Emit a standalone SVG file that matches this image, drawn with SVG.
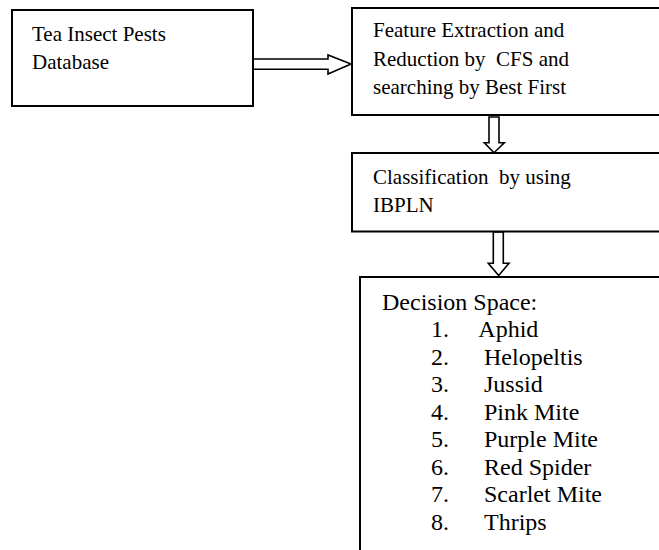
<svg xmlns="http://www.w3.org/2000/svg" width="659" height="550" viewBox="0 0 659 550">
  <style>
    .box { fill: #ffffff; stroke: #000000; stroke-width: 2; }
    .arrow { fill: #ffffff; stroke: #000000; stroke-width: 1.6; stroke-linejoin: miter; }
    .t { font-family: "Liberation Serif", "Times New Roman", serif; font-size: 21px; fill: #000000; }
    .d { font-family: "Liberation Serif", "Times New Roman", serif; font-size: 24px; fill: #000000; }
  </style>
  <rect x="0" y="0" width="659" height="550" fill="#ffffff"/>
  <g id="connectors">
    <polygon class="arrow" points="253,59 328,59 328,55 351,64 328,74 328,69.3 253,69.3"/>
    <polygon class="arrow" points="489,117 499,117 499,142.7 504.3,142.7 494,152.7 484.3,142.7 489,142.7"/>
    <polygon class="arrow" points="493.3,232 503.3,232 503.3,263.3 509,263.3 498.7,275.5 488.3,263.3 493.3,263.3"/>
  </g>
  <g id="node-database">
    <rect class="box" x="12" y="10" width="241" height="96"/>
    <text class="t" x="32" y="40.5">Tea Insect Pests</text>
    <text class="t" x="32" y="69">Database</text>
  </g>
  <g id="node-feature">
    <rect class="box" x="352" y="8" width="320" height="107"/>
    <text class="t" x="373" y="37.3">Feature Extraction and</text>
    <text class="t" x="373" y="65.7" xml:space="preserve">Reduction by  CFS and</text>
    <text class="t" x="373" y="94">searching by Best First</text>
  </g>
  <g id="node-classification">
    <rect class="box" x="352" y="153" width="320" height="78.5"/>
    <text class="t" x="373" y="184" xml:space="preserve">Classification  by using</text>
    <text class="t" x="373" y="211.7">IBPLN</text>
  </g>
  <g id="node-decision">
    <rect class="box" x="360" y="277" width="320" height="290"/>
    <text class="d" x="382" y="309.8">Decision Space:</text>
    <text class="d" x="431" y="337.3">1.</text><text class="d" x="478.3" y="337.3">Aphid</text>
    <text class="d" x="431" y="364.8">2.</text><text class="d" x="484" y="364.8">Helopeltis</text>
    <text class="d" x="431" y="392.3">3.</text><text class="d" x="484" y="392.3">Jussid</text>
    <text class="d" x="431" y="419.8">4.</text><text class="d" x="484" y="419.8">Pink Mite</text>
    <text class="d" x="431" y="447.3">5.</text><text class="d" x="484" y="447.3">Purple Mite</text>
    <text class="d" x="431" y="474.8">6.</text><text class="d" x="484" y="474.8">Red Spider</text>
    <text class="d" x="431" y="502.3">7.</text><text class="d" x="484" y="502.3">Scarlet Mite</text>
    <text class="d" x="431" y="529.8">8.</text><text class="d" x="484" y="529.8">Thrips</text>
  </g>
</svg>
